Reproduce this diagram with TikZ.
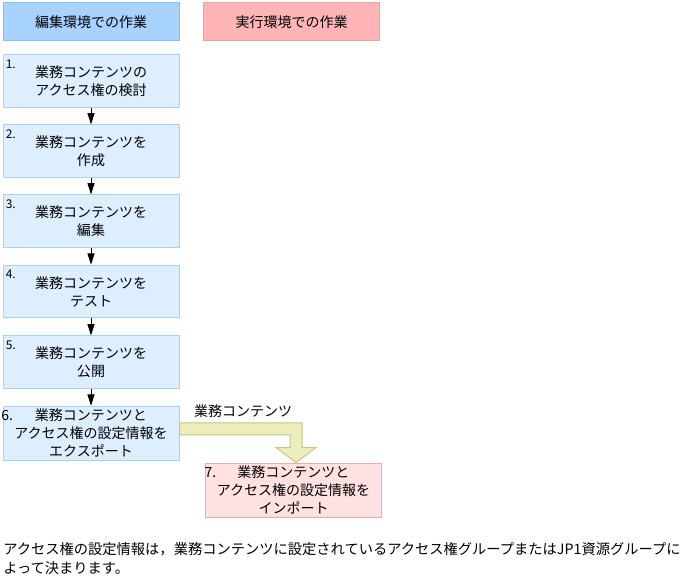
\documentclass[tikz,border=0pt]{standalone}
\usepackage{fontspec}
\setmainfont{Noto Sans CJK JP}
\usetikzlibrary{arrows.meta,calc}
\definecolor{hdrblue}{HTML}{A9D3FF}
\definecolor{hdrblueline}{HTML}{88BFF2}
\definecolor{hdrred}{HTML}{FFB5B5}
\definecolor{hdrredline}{HTML}{F2A0A0}
\definecolor{stepfill}{HTML}{DDEEFF}
\definecolor{stepfillline}{HTML}{A8D0F4}
\definecolor{impfill}{HTML}{FFE1E1}
\definecolor{impfillline}{HTML}{F0AAAA}
\definecolor{yfill}{HTML}{EEEEBB}
\definecolor{yline}{HTML}{C4C48E}
\begin{document}
\begin{tikzpicture}[x=0.75pt,y=-0.75pt,
  every node/.style={font=\fontsize{10.5pt}{13.5pt}\selectfont},
  hdr/.style={draw=#1line, fill=#1, minimum width=132pt, minimum height=28.5pt, inner sep=0pt, line width=0.75pt},
  stepbox/.style={draw=stepfillline, fill=stepfill, minimum width=132pt, minimum height=39.4pt, inner sep=0pt, align=center, line width=0.75pt},
  bigbox/.style={draw=#1line, fill=#1, minimum width=132pt, minimum height=40.5pt, inner sep=0pt, align=center, line width=0.75pt},
  numlbl/.style={font=\fontsize{9pt}{10pt}\selectfont, anchor=north west, inner sep=0pt},
  flow/.style={-{Triangle[width=5.25pt,length=8.5pt]}, line width=0.6pt, black}
]
\useasboundingbox (0,0) rectangle (681,580);
\node[hdr=hdrblue] (h1) at (91,22) {編集環境での作業};
\node[hdr=hdrred] (h2) at (291.5,22) {実行環境での作業};

\node[stepbox] (b1) at (91,81.25) {業務コンテンツの\\アクセス権の検討};
\node[stepbox] (b2) at (91,151.25) {業務コンテンツを\\作成};
\node[stepbox] (b3) at (91,221.25) {業務コンテンツを\\編集};
\node[stepbox] (b4) at (91,291.5) {業務コンテンツを\\テスト};
\node[stepbox] (b5) at (91,362.25) {業務コンテンツを\\公開};
\node[bigbox=stepfill] (b6) at (91,433.25) {\llap{6.\hspace{16.5pt}}業務コンテンツと\\アクセス権の設定情報を\\エクスポート};
\node[bigbox=impfill] (b7) at (293.5,490) {\llap{7.\hspace{16pt}}業務コンテンツと\\アクセス権の設定情報を\\インポート};

\node[numlbl] (n1) at ($(b1.north west)+(3,5)$) {1.};
\node[numlbl] (n2) at ($(b2.north west)+(3,5)$) {2.};
\node[numlbl] (n3) at ($(b3.north west)+(3,5)$) {3.};
\node[numlbl] (n4) at ($(b4.north west)+(3,5)$) {4.};
\node[numlbl] (n5) at ($(b5.north west)+(3,5)$) {5.};

\draw[flow] (b1.south) -- (b2.north);
\draw[flow] (b2.south) -- (b3.north);
\draw[flow] (b3.south) -- (b4.north);
\draw[flow] (b4.south) -- (b5.north);
\draw[flow] (b5.south) -- (b6.north);

\coordinate (ys) at ($(b6.north east)+(0,17)$);
\coordinate (yt) at ($(b7.north)+(2.5,0)$);
\draw[draw=yline, fill=yfill, line width=0.75pt]
  (ys) -- ($(yt|-ys)+(6,0)$) -- ($(yt)+(6,-15)$) -- ($(yt)+(20,-15)$) -- (yt)
  -- ($(yt)+(-20,-15)$) -- ($(yt)+(-6,-15)$) -- ($(yt|-ys)+(-6,12)$) -- ($(ys)+(0,12)$) -- cycle;
\node (lbl) at (243,411) {業務コンテンツ};

\node[anchor=north west, align=left, inner sep=0pt, font=\fontsize{10.7pt}{14.25pt}\selectfont] (note) at (3,542)
  {アクセス権の設定情報は，業務コンテンツに設定されているアクセス権グループまたはJP1資源グループに\\よって決まります。};
\end{tikzpicture}
\end{document}
